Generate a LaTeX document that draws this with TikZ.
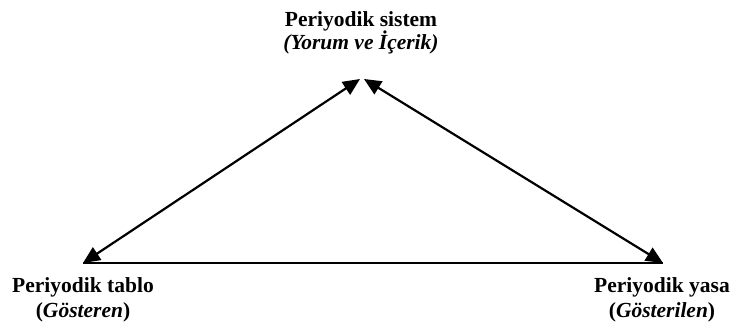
\documentclass[tikz,border=0pt]{standalone}
\usepackage{fontspec}
\setmainfont{Liberation Serif}
\usetikzlibrary{arrows.meta}
\begin{document}
\begin{tikzpicture}[x=1pt,y=1pt,
  lbl/.style={inner sep=0pt, anchor=base, font=\fontsize{21.5}{25}\selectfont\bfseries},
  conn/.style={line width=2.2pt, {Triangle[length=17pt,width=15pt]}-{Triangle[length=17pt,width=15pt]}},
  base/.style={line width=2.2pt}]
\useasboundingbox (0,0) rectangle (734,329);
% corners
\coordinate (A) at (83,66);
\coordinate (C) at (663,66);
\coordinate (T1) at (360,250);
\coordinate (T2) at (364,250);
% labels
\node[lbl] (top1) at (361,302) {Periyodik sistem};
\node[lbl] (top2) at (361,279) {\itshape (Yorum ve İçerik)};
\node[lbl] (left1) at (83,36) {Periyodik tablo};
\node[lbl] (left2) at (83,11) {(\textit{Gösteren})};
\node[lbl] (right1) at (662,36) {Periyodik yasa};
\node[lbl] (right2) at (662,11) {(\textit{Gösterilen})};
% connectors
\draw[base] (A) -- (C);
\draw[conn] (A) -- (T1);
\draw[conn] (C) -- (T2);
\end{tikzpicture}
\end{document}
